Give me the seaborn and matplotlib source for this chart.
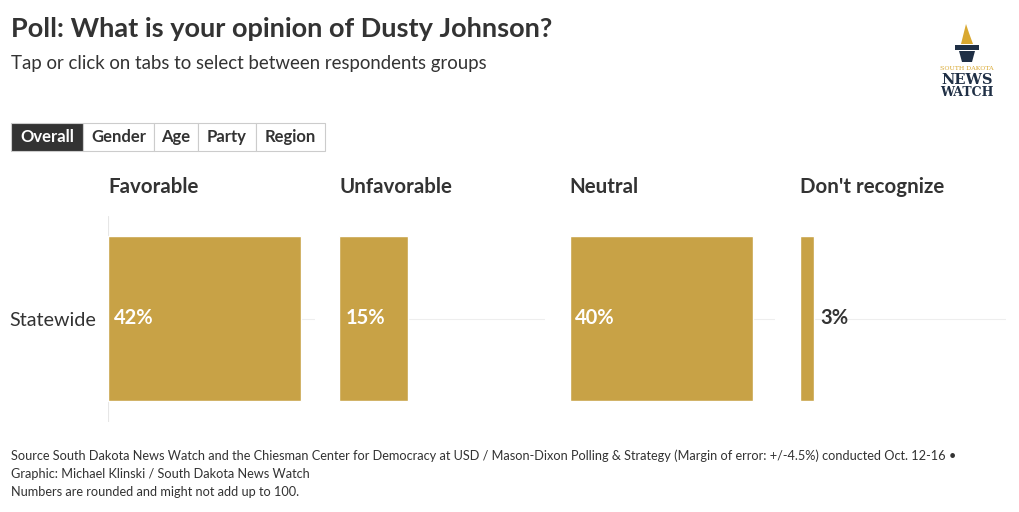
#!/usr/bin/env python3
"""Poll chart: opinion of Dusty Johnson, statewide split into four small bar panels."""

import matplotlib.pyplot as plt
import matplotlib.patches as mpatches
import pandas as pd
import seaborn as sns

W, H = 1020, 512

categories = ["Favorable", "Unfavorable", "Neutral", "Don't recognize"]
values = [42, 15, 40, 3]
group = ["Statewide"]
tabs = ["Overall", "Gender", "Age", "Party", "Region"]

GOLD = "#C8A246"
DARK = "#333333"
NAVY = "#1F2F45"

sns.set_theme(style="white")
plt.rcParams["font.family"] = ["Lato", "DejaVu Sans"]

fig = plt.figure(figsize=(W / 100, H / 100), dpi=100)


def px(x, y):
    return x / W, 1 - y / H


# title block
fig.text(*px(11, 29), "Poll: What is your opinion of Dusty Johnson?", fontsize=19.5,
         fontweight="bold", color=DARK, va="center")
fig.text(*px(11, 63), "Tap or click on tabs to select between respondents groups", fontsize=13.4,
         color=DARK, va="center")

# tabs
tab_x = [11, 83, 154, 198, 256, 325]
for i, name in enumerate(tabs):
    x0, x1 = tab_x[i], tab_x[i + 1]
    active = i == 0
    fig.patches.append(mpatches.Rectangle(
        px(x0, 151), (x1 - x0) / W, 28 / H, transform=fig.transFigure,
        facecolor=DARK if active else "white", edgecolor="#cccccc", linewidth=0.8))
    fig.text(*px((x0 + x1) / 2, 137), name, fontsize=12, fontweight="bold",
             color="white" if active else DARK, ha="center", va="center")

# logo
fig.patches.append(mpatches.Polygon(
    [px(961, 44), px(966, 24), px(969, 33), px(973, 44)], closed=True,
    transform=fig.transFigure, facecolor="#D9A830", edgecolor="none"))
fig.patches.append(mpatches.Rectangle(px(955, 50), 24 / W, 5 / H, transform=fig.transFigure,
                                      facecolor=NAVY, edgecolor="none"))
fig.patches.append(mpatches.Polygon(
    [px(959, 51), px(975, 51), px(972, 62), px(962, 62)], closed=True,
    transform=fig.transFigure, facecolor=NAVY, edgecolor="none"))
fig.text(*px(967, 69), "SOUTH DAKOTA", fontsize=4.5, color="#D9A830", ha="center",
         va="center", family="DejaVu Serif")
fig.text(*px(967, 80), "NEWS", fontsize=10.5, fontweight="bold", color=NAVY,
         ha="center", va="center", family="DejaVu Serif")
fig.text(*px(967, 92), "WATCH", fontsize=9, fontweight="bold", color=NAVY,
         ha="center", va="center", family="DejaVu Serif")

# panels
panel_left = [108.5, 339.5, 569.5, 800.5]
panel_w = 206
ax_top, ax_h = 215.5, 206
for i, (cat, val) in enumerate(zip(categories, values)):
    left, bottom = px(panel_left[i], ax_top + ax_h)
    ax = fig.add_axes([left, bottom, panel_w / W, ax_h / H])
    df = pd.DataFrame({"group": group, "value": [val]})
    sns.barplot(data=df, x="value", y="group", color=GOLD, saturation=1, width=0.8, ax=ax)
    ax.set_xlim(0, 45)
    ax.set_ylim(0.5, -0.5)
    ax.axhline(0, color="#eeeeee", linewidth=0.8, zorder=0)
    for s in ax.spines.values():
        s.set_visible(False)
    ax.set_xticks([])
    ax.set_xlabel("")
    ax.set_ylabel("")
    ax.set_facecolor("none")
    if i == 0:
        ax.axvline(0, color="#e6e6e6", linewidth=0.8, zorder=0)
        ax.set_yticks([0], group)
        ax.tick_params(axis="y", length=0, pad=9, labelsize=14.2, labelcolor=DARK)
    else:
        ax.set_yticks([])
    if val >= 10:
        ax.text(1.3, 0, f"{val}%", color="white", fontsize=14.5, fontweight="bold",
                va="center", ha="left")
    else:
        ax.text(val + 1.3, 0, f"{val}%", color=DARK, fontsize=14.5, fontweight="bold",
                va="center", ha="left")
    fig.text(*px(panel_left[i], 187), cat, fontsize=14.8, fontweight="bold", color=DARK,
             va="center")

# footer
footer = [
    "Source South Dakota News Watch and the Chiesman Center for Democracy at USD / "
    "Mason-Dixon Polling & Strategy (Margin of error: +/-4.5%) conducted Oct. 12-16 •",
    "Graphic: Michael Klinski / South Dakota News Watch",
    "Numbers are rounded and might not add up to 100.",
]
for k, line in enumerate(footer):
    fig.text(*px(11, 456 + 18 * k), line, fontsize=9.2, color=DARK, va="center")

fig.savefig("out.png", dpi=100, facecolor="white")
